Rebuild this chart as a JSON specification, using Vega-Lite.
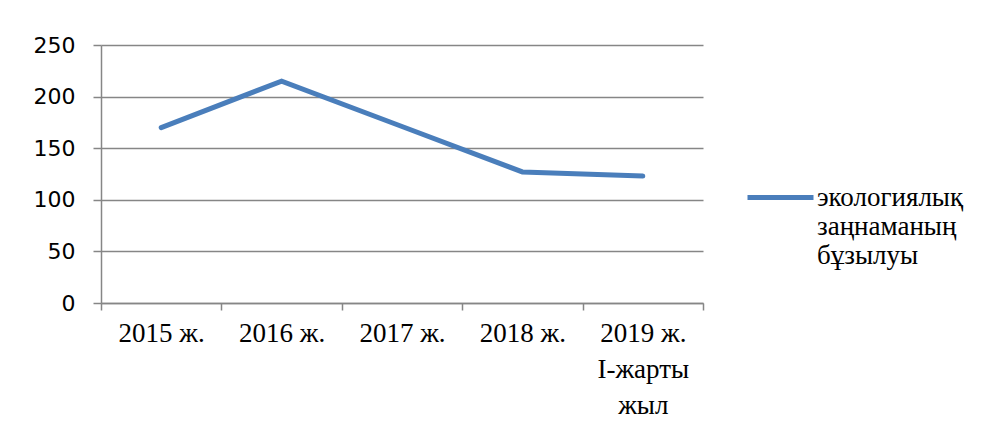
{
  "$schema": "https://vega.github.io/schema/vega-lite/v6.json",
  "width": 602,
  "height": 258,
  "autosize": {"type": "none"},
  "padding": {"left": 101, "top": 45, "right": 287, "bottom": 131},
  "background": "white",
  "data": {
    "values": [
      {"year": "2015 ж.", "value": 170, "series": "экологиялық заңнаманың бұзылуы"},
      {"year": "2016 ж.", "value": 215, "series": "экологиялық заңнаманың бұзылуы"},
      {"year": "2017 ж.", "value": 171, "series": "экологиялық заңнаманың бұзылуы"},
      {"year": "2018 ж.", "value": 127, "series": "экологиялық заңнаманың бұзылуы"},
      {"year": "2019 ж. І-жарты жыл", "value": 123, "series": "экологиялық заңнаманың бұзылуы"}
    ]
  },
  "mark": {"type": "line", "strokeWidth": 5, "strokeCap": "round", "strokeJoin": "miter"},
  "encoding": {
    "x": {
      "field": "year",
      "type": "ordinal",
      "sort": null,
      "scale": {"type": "band", "paddingInner": 0, "paddingOuter": 0},
      "axis": {
        "title": null,
        "labelAngle": 0,
        "tickBand": "extent",
        "grid": false,
        "domainColor": "#868686",
        "domainWidth": 1.5,
        "tickColor": "#868686",
        "tickWidth": 1.5,
        "tickSize": 7,
        "labelFont": "Liberation Serif",
        "labelFontSize": 27,
        "labelColor": "#000000",
        "labelPadding": 10,
        "labelBaseline": "top",
        "labelLineHeight": 36,
        "labelExpr": "datum.label == '2019 ж. І-жарты жыл' ? ['2019 ж.', 'І-жарты', 'жыл'] : datum.label"
      }
    },
    "y": {
      "field": "value",
      "type": "quantitative",
      "scale": {"domain": [0, 250], "nice": false},
      "axis": {
        "title": null,
        "values": [0, 50, 100, 150, 200, 250],
        "grid": true,
        "gridColor": "#868686",
        "gridWidth": 1.5,
        "domainColor": "#868686",
        "domainWidth": 1.5,
        "tickColor": "#868686",
        "tickWidth": 1.5,
        "tickSize": 8,
        "labelFont": "DejaVu Sans",
        "labelFontSize": 22,
        "labelColor": "#000000",
        "labelPadding": 18
      }
    },
    "color": {
      "field": "series",
      "type": "nominal",
      "scale": {"range": ["#4a7ebb"]},
      "legend": {
        "title": null,
        "orient": "none",
        "legendX": 644,
        "legendY": 117,
        "symbolType": "stroke",
        "symbolSize": 4356,
        "symbolStrokeWidth": 5,
        "labelOffset": 1,
        "labelFont": "Liberation Serif",
        "labelFontSize": 27,
        "labelColor": "#000000",
        "labelLimit": 300,
        "labelLineHeight": 34,
        "labelBaseline": "middle",
        "labelExpr": "['экологиялық', 'заңнаманың', 'бұзылуы']"
      }
    }
  },
  "config": {"view": {"stroke": null}, "legend": {"labelLineHeight": 34}}
}
